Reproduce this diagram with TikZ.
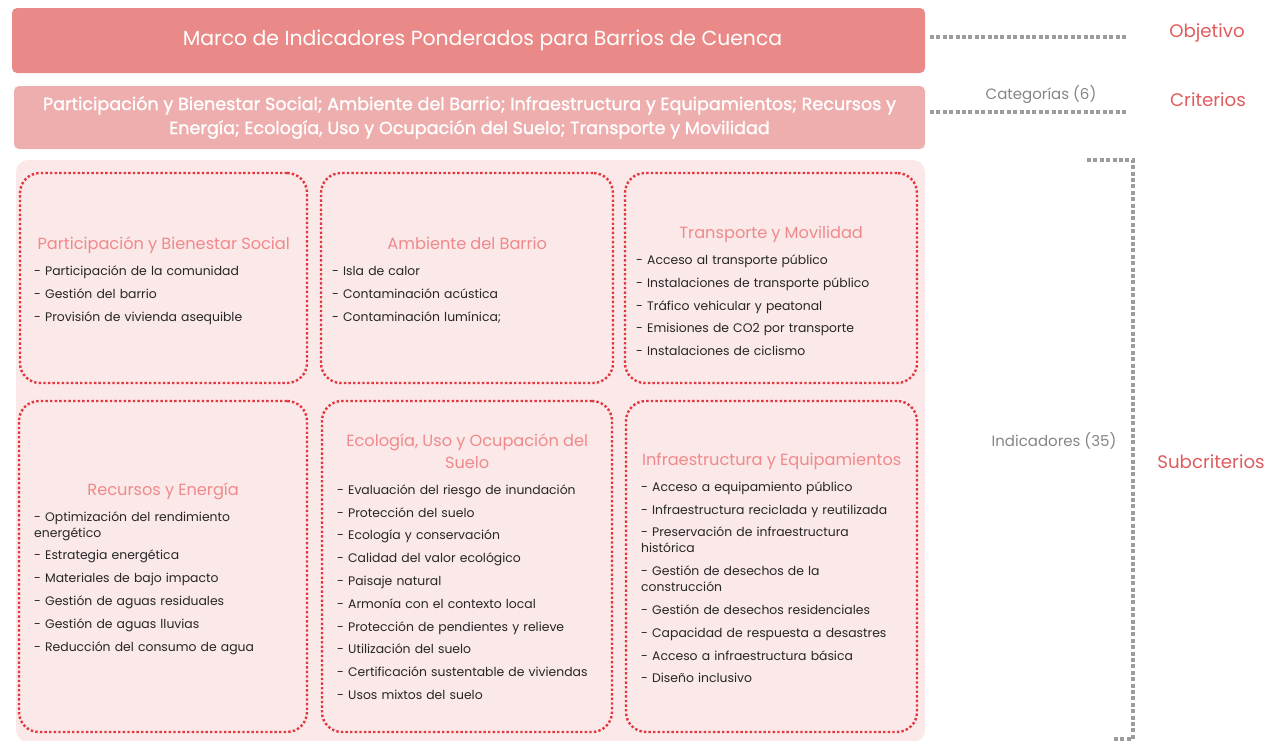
\documentclass[tikz,border=0pt]{standalone}
\usepackage{fontspec}
\setmainfont{Poppins}
\newfontfamily\medfont[BoldFont={Poppins},BoldFeatures={FakeBold=1.2}]{Poppins}
\definecolor{topc}{HTML}{E98A88}
\definecolor{critc}{HTML}{EFAEAE}
\definecolor{panelc}{HTML}{FBE8E8}
\definecolor{dotred}{HTML}{E2373F}
\definecolor{headc}{HTML}{F0898B}
\definecolor{labc}{HTML}{E05B5D}
\definecolor{grayline}{HTML}{9C9C9C}
\definecolor{graytxt}{HTML}{858585}
\definecolor{itemc}{HTML}{262626}
\newcommand{\hd}[1]{{\centering\color{headc}\fontsize{16.2}{22}\selectfont #1\par}\vspace{3.2pt}}
\begin{document}
\begin{tikzpicture}[x=1pt,y=-1pt,
  band/.style={rounded corners=5pt, inner sep=0pt, text=white, align=center},
  catbox/.style={draw=dotred, line width=2.4pt, dash pattern=on 2.4pt off 2.2pt, rounded corners=20pt, inner sep=0pt},
  content/.style={anchor=west, inner sep=0pt, align=left, text=itemc,
    font={\fontsize{12.4}{16}\selectfont\setlength{\parskip}{6.8pt}\setlength{\parindent}{0pt}}},
  grayd/.style={draw=grayline, line width=3.3pt, dash pattern=on 4pt off 2.4pt},
  lab/.style={text=labc, font=\fontsize{18.2}{21}\selectfont, inner sep=0pt},
  glab/.style={text=graytxt, font=\fontsize{15}{17}\selectfont, inner sep=0pt}
]
\useasboundingbox (0,0) rectangle (1276,740);

% top bands
\node[band, fill=topc, minimum width=913pt, minimum height=65pt] (obj) at (468.5,40.5) {};
\node[text=white, inner sep=0pt, font=\fontsize{20.4}{24}\selectfont] (objt) at (482.5,40.5)
  {Marco de Indicadores Ponderados para Barrios de Cuenca};
\node[band, fill=critc, minimum width=911pt, minimum height=63pt, font=\medfont\bfseries\fontsize{17.6}{24}\selectfont] (crit) at (469.5,117.5)
  {Participación y Bienestar Social; Ambiente del Barrio; Infraestructura y Equipamientos; Recursos y\\
   Energía; Ecología, Uso y Ocupación del Suelo; Transporte y Movilidad};

% panel
\node[fill=panelc, rounded corners=12pt, minimum width=909pt, minimum height=582pt, inner sep=0pt] (panel) at (470.5,451) {};

% category boxes
\node[catbox, minimum width=287pt, minimum height=210pt] (b1) at (163.5,278) {};
\node[catbox, minimum width=292pt, minimum height=210pt] (b2) at (467,278) {};
\node[catbox, minimum width=292pt, minimum height=210pt] (b3) at (771,278) {};
\node[catbox, minimum width=288pt, minimum height=331pt] (b4) at (163,566.5) {};
\node[catbox, minimum width=290pt, minimum height=331pt] (b5) at (467,566.5) {};
\node[catbox, minimum width=291pt, minimum height=331pt] (b6) at (771.5,566.5) {};

\node[content, text width=259pt] (c1) at (34,280.5) {\hd{Participación y Bienestar Social}
- Participación de la comunidad\par
- Gestión del barrio\par
- Provisión de vivienda asequible};

\node[content, text width=270pt] (c2) at (332,280) {\hd{Ambiente del Barrio}
- Isla de calor\par
- Contaminación acústica\par
- Contaminación lumínica;};

\node[content, text width=270pt] (c3) at (636,291) {\hd{Transporte y Movilidad}
- Acceso al transporte público\par
- Instalaciones de transporte público\par
- Tráfico vehicular y peatonal\par
- Emisiones de CO2 por transporte\par
- Instalaciones de ciclismo};

\node[content, text width=258pt] (c4) at (34,568.5) {\hd{Recursos y Energía}
- Optimización del rendimiento\\energético\par
- Estrategia energética\par
- Materiales de bajo impacto\par
- Gestión de aguas residuales\par
- Gestión de aguas lluvias\par
- Reducción del consumo de agua};

\node[content, text width=260pt] (c5) at (337,566.5) {\hd{Ecología, Uso y Ocupación del\\Suelo}
- Evaluación del riesgo de inundación\par
- Protección del suelo\par
- Ecología y conservación\par
- Calidad del valor ecológico\par
- Paisaje natural\par
- Armonía con el contexto local\par
- Protección de pendientes y relieve\par
- Utilización del suelo\par
- Certificación sustentable de viviendas\par
- Usos mixtos del suelo};

\node[content, text width=261pt] (c6) at (641,568) {\hd{Infraestructura y Equipamientos}
- Acceso a equipamiento público\par
- Infraestructura reciclada y reutilizada\par
- Preservación de infraestructura\\histórica\par
- Gestión de desechos de la\\construcción\par
- Gestión de desechos residenciales\par
- Capacidad de respuesta a desastres\par
- Acceso a infraestructura básica\par
- Diseño inclusivo};

% right labels
\node[lab] (lobj) at (1207,33) {Objetivo};
\node[lab] (lcrit) at (1208,100) {Criterios};
\node[lab] (lsub) at (1211,462) {Subcriterios};
\node[glab] (lcat) at (1041,95) {Categorías (6)};
\node[glab] (lind) at (1054,441) {Indicadores (35)};

% gray dotted connectors
\coordinate (o1) at (930,37);
\coordinate (o2) at (1128,37);
\coordinate (k1) at (930,112);
\coordinate (k2) at (1128,112);
\coordinate (s1) at (1087,160);
\coordinate (s2) at (1133,160);
\coordinate (s3) at (1133,739);
\coordinate (s4) at (1113,739);
\draw[grayd] (o1) -- (o2);
\draw[grayd] (k1) -- (k2);
\draw[grayd] (s1) -- (s2) -- (s3) -- (s4);
\end{tikzpicture}
\end{document}
